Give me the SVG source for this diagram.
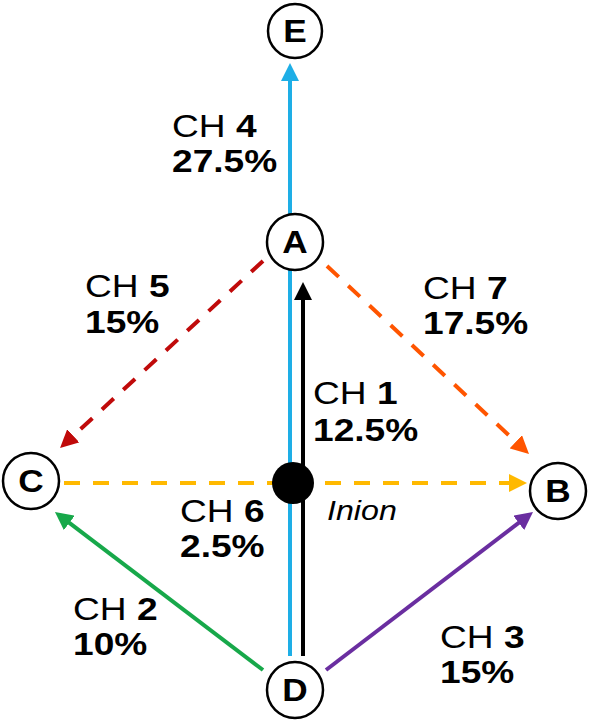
<svg xmlns="http://www.w3.org/2000/svg" width="589" height="720" viewBox="0 0 589 720">
<style>
.node circle{fill:#fff;stroke:#000;stroke-width:2.5}
.node text{font-family:"Liberation Sans",Arial,sans-serif;font-weight:bold;font-size:32px;text-anchor:middle;fill:#000}
.lbl text{font-family:"Liberation Sans",Arial,sans-serif;font-size:32px;fill:#000}
.b{font-weight:bold}
.ln{fill:none;stroke-width:4}
.dash{stroke-dasharray:16 13}
</style>
<defs>
<marker id="mBlue" markerUnits="userSpaceOnUse" markerWidth="18" markerHeight="18" viewBox="0 0 18 18" refX="2" refY="9" orient="auto"><path d="M0,0 L18,9 L0,18 z" fill="#1eaee6"/></marker>
<marker id="mBlack" markerUnits="userSpaceOnUse" markerWidth="18" markerHeight="18" viewBox="0 0 18 18" refX="2" refY="9" orient="auto"><path d="M0,0 L18,9 L0,18 z" fill="#000"/></marker>
<marker id="mRed" markerUnits="userSpaceOnUse" markerWidth="18" markerHeight="18" viewBox="0 0 18 18" refX="2" refY="9" orient="auto"><path d="M0,0 L18,9 L0,18 z" fill="#c00a0a"/></marker>
<marker id="mOrange" markerUnits="userSpaceOnUse" markerWidth="18" markerHeight="18" viewBox="0 0 18 18" refX="2" refY="9" orient="auto"><path d="M0,0 L18,9 L0,18 z" fill="#ff5500"/></marker>
<marker id="mYellow" markerUnits="userSpaceOnUse" markerWidth="18" markerHeight="18" viewBox="0 0 18 18" refX="2" refY="9" orient="auto"><path d="M0,0 L18,9 L0,18 z" fill="#ffb900"/></marker>
<marker id="mGreen" markerUnits="userSpaceOnUse" markerWidth="18" markerHeight="18" viewBox="0 0 18 18" refX="2" refY="9" orient="auto"><path d="M0,0 L18,9 L0,18 z" fill="#17a84a"/></marker>
<marker id="mPurple" markerUnits="userSpaceOnUse" markerWidth="18" markerHeight="18" viewBox="0 0 18 18" refX="2" refY="9" orient="auto"><path d="M0,0 L18,9 L0,18 z" fill="#6a2ea0"/></marker>
</defs>
<rect width="589" height="720" fill="#fff"/>
<g id="connectors">
<line class="ln" x1="290" y1="656" x2="290" y2="79" stroke="#1eaee6" marker-end="url(#mBlue)"/>
<line class="ln" x1="303" y1="656" x2="303" y2="298" stroke="#000" marker-end="url(#mBlack)"/>
<line class="ln dash" x1="263" y1="261" x2="71.8" y2="437.2" stroke="#c00a0a" marker-end="url(#mRed)"/>
<line class="ln dash" x1="327" y1="266" x2="517.3" y2="443.1" stroke="#ff5500" marker-end="url(#mOrange)"/>
<line class="ln dash" x1="64" y1="483" x2="511" y2="483" stroke="#ffb900" marker-end="url(#mYellow)"/>
<line class="ln" x1="263" y1="670" x2="67.7" y2="521.7" stroke="#17a84a" marker-end="url(#mGreen)"/>
<line class="ln" x1="326" y1="670" x2="520.3" y2="521.7" stroke="#6a2ea0" marker-end="url(#mPurple)"/>
</g>
<g id="inion">
<circle cx="293" cy="483" r="21" fill="#000"/>
<text transform="translate(327,520) scale(1.15,1)" font-family="'Liberation Sans',Arial,sans-serif" font-style="italic" font-size="28">Inion</text>
</g>
<g id="E" class="node"><circle cx="295" cy="31" r="27"/><text transform="translate(295,42) scale(1.1,1)">E</text></g>
<g id="A" class="node"><circle cx="295" cy="242" r="28"/><text transform="translate(295,253) scale(1.1,1)">A</text></g>
<g id="C" class="node"><circle cx="31" cy="481" r="28"/><text transform="translate(31,492) scale(1.1,1)">C</text></g>
<g id="B" class="node"><circle cx="558" cy="491" r="28"/><text transform="translate(558,502) scale(1.1,1)">B</text></g>
<g id="D" class="node"><circle cx="295" cy="690" r="28"/><text transform="translate(295,701) scale(1.1,1)">D</text></g>
<g id="labels" class="lbl">
<g transform="translate(172,137) scale(1.16,1)"><text>CH <tspan class="b">4</tspan></text><text y="35" class="b">27.5%</text></g>
<g transform="translate(85,297) scale(1.16,1)"><text>CH <tspan class="b">5</tspan></text><text y="36" class="b">15%</text></g>
<g transform="translate(423,299) scale(1.16,1)"><text>CH <tspan class="b">7</tspan></text><text y="35" class="b">17.5%</text></g>
<g transform="translate(313,404) scale(1.16,1)"><text>CH <tspan class="b">1</tspan></text><text y="37" class="b">12.5%</text></g>
<g transform="translate(180,522) scale(1.16,1)"><text>CH <tspan class="b">6</tspan></text><text y="35" class="b">2.5%</text></g>
<g transform="translate(73,620) scale(1.16,1)"><text>CH <tspan class="b">2</tspan></text><text y="35" class="b">10%</text></g>
<g transform="translate(440,648) scale(1.16,1)"><text>CH <tspan class="b">3</tspan></text><text y="35" class="b">15%</text></g>
</g>
</svg>
